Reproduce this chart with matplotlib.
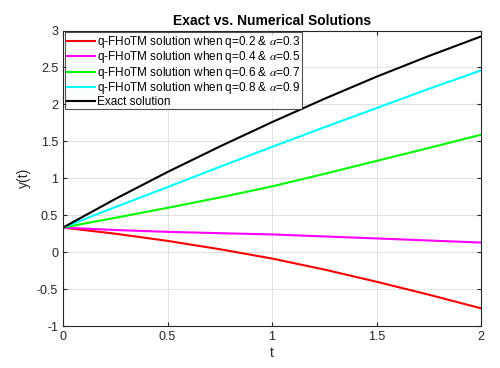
import numpy as np
import matplotlib.pyplot as plt

plt.rcParams['font.family'] = ['Liberation Sans', 'DejaVu Sans']
plt.rcParams['mathtext.fontset'] = 'stix'

# valores
t = [0, 0.25, 0.5, 0.75, 1.0, 1.25, 1.5, 1.75, 2.0]
y_q02 = [0.333, 0.25, 0.153, 0.04, -0.086, -0.235, -0.40, -0.575, -0.76]
y_q04 = [0.333, 0.30, 0.275, 0.257, 0.24, 0.213, 0.186, 0.158, 0.13]
y_q06 = [0.333, 0.465, 0.60, 0.74, 0.89, 1.06, 1.235, 1.41, 1.59]
y_q08 = [0.333, 0.61, 0.88, 1.155, 1.425, 1.69, 1.95, 2.21, 2.46]
y_exact = [0.333, 0.72, 1.085, 1.43, 1.76, 2.075, 2.375, 2.655, 2.92]

labels = ['q-FHoTM solution when q=0.2 & $\\alpha$=0.3',
          'q-FHoTM solution when q=0.4 & $\\alpha$=0.5',
          'q-FHoTM solution when q=0.6 & $\\alpha$=0.7',
          'q-FHoTM solution when q=0.8 & $\\alpha$=0.9',
          'Exact solution']
colores = ['#ff0000', '#ff00ff', '#00ff00', '#00ffff', '#000000']

fig = plt.figure(figsize=(5, 3.68), dpi=100)
ax = fig.add_axes([0.126, 0.114, 0.836, 0.803])

for y, lab, c in zip([y_q02, y_q04, y_q06, y_q08, y_exact], labels, colores):
    ax.plot(t, y, color=c, lw=1.5, label=lab)

ax.set_xlim(0, 2)
ax.set_ylim(-1, 3)
ax.set_xticks([0, 0.5, 1, 1.5, 2])
ax.set_xticklabels(['0', '0.5', '1', '1.5', '2'])
ax.set_yticks([-1, -0.5, 0, 0.5, 1, 1.5, 2, 2.5, 3])
ax.set_yticklabels(['-1', '-0.5', '0', '0.5', '1', '1.5', '2', '2.5', '3'])
ax.grid(True, color='#dcdcdc', lw=0.6)
ax.tick_params(direction='in', top=True, right=True, labelsize=9,
               length=3, colors='#262626')
for s in ax.spines.values():
    s.set_color('#262626')
    s.set_linewidth(0.8)

ax.set_xlabel('t', fontsize=10, color='#262626', labelpad=2)
ax.set_ylabel('y(t)', fontsize=10, color='#262626', labelpad=4)
ax.set_title('Exact vs. Numerical Solutions', fontsize=10, fontweight='bold', pad=4)

leg = ax.legend(loc='upper left', fontsize=8.5, frameon=True, fancybox=False,
                edgecolor='#262626', handlelength=2.4, handletextpad=0.15,
                borderpad=0.15, labelspacing=-0.05, borderaxespad=0.15)
leg.get_frame().set_linewidth(0.8)

fig.savefig('out.png', dpi=100)
